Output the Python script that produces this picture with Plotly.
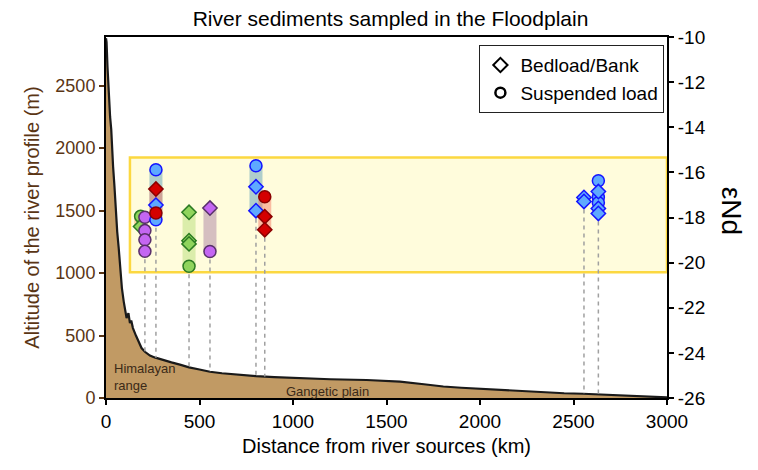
import numpy as np
import plotly.graph_objects as go

# ---------------- data ----------------
# River profile (distance km, altitude m)
profile_km = [0, 3, 8, 12, 18, 22, 28, 32, 38, 45, 52, 60, 68, 75, 85, 95, 110, 120, 128,
              135, 144, 160, 175, 190, 208, 235, 260, 300, 350, 400, 444, 500, 556, 620,
              700, 802, 900, 1037, 1200, 1394, 1572, 1700, 1804, 1900, 2017, 2100, 2177,
              2250, 2321, 2450, 2551, 2642, 2730, 2818, 2900, 2979, 3000]
profile_alt = [2880, 2850, 2650, 2500, 2350, 2250, 2150, 2000, 1850, 1700, 1500, 1330, 1200,
               1060, 880, 770, 640, 680, 600, 620, 560, 500, 450, 400, 370, 340, 325, 305,
               285, 265, 245, 228, 210, 198, 186, 175, 167, 157, 150, 144, 131, 110, 92, 82,
               72, 63, 56, 50, 45, 38, 34, 29, 24, 19, 13, 7, 5]

# eNd samples: (distance km) and values for suspended load / bedload-bank
greenA_km, greenA_susp, greenA_bed = 185, [-17.95], [-18.4]
purpleA_km, purpleA_susp, purpleA_bed = 208, [-17.99, -18.58, -18.99, -19.50], []
blue1_km, blue1_susp, blue1_bed = 267, [-15.88, -18.1], [-17.45]
red1_km, red1_susp, red1_bed = 267, [-17.8], [-16.74]
green2_km, green2_susp, green2_bed = 444, [-20.16], [-17.77, -19.03, -19.17]
purple2_km, purple2_susp, purple2_bed = 556, [-19.51], [-17.58]
blue2_km, blue2_susp, blue2_bed = 802, [-15.71], [-16.64, -17.7]
red2_km, red2_susp, red2_bed = 849, [-17.08], [-17.96, -18.54]
blue3_km, blue3_susp, blue3_bed = 2556, [], [-17.11, -17.29]
blue4_km, blue4_susp, blue4_bed = 2633, [-16.37, -17.1, -17.35], [-16.85, -17.6, -17.82]

# Himalayan source range box (eNd)
box_km = [128, 3000]
box_end = [-20.43, -15.34]

alt_range = [0, 2890]
end_range = [-26, -10]

x_ticks = [0, 500, 1000, 1500, 2000, 2500, 3000]
alt_ticks = [0, 500, 1000, 1500, 2000, 2500]
end_ticks = [-26, -24, -22, -20, -18, -16, -14, -12, -10]
end_ticktext = ["-26", "-24", "-22", "-20", "-18", "-16", "-14", "-12", "-10"]

# ---------------- styles ----------------
FONT = "Liberation Sans, Arial, sans-serif"
BROWN = "#5a3514"
styles = {
    "blue": dict(fill="#5ea9ff", line="#1414ff", bar="rgba(95,160,185,0.5)"),
    "red": dict(fill="#d40000", line="#8a0000", bar="rgba(245,110,90,0.45)"),
    "green": dict(fill="#8fd45c", line="#2b7a22", bar="rgba(175,220,110,0.45)"),
    "greenA": dict(fill="#8fd45c", line="#2b7a22", bar="rgba(250,175,110,0.5)"),
    "purple": dict(fill="#c466f2", line="#58306a", bar="rgba(150,100,150,0.4)"),
}

groups = [
    ("greenA", greenA_km, greenA_susp, greenA_bed, True, False),
    ("purple", purpleA_km, purpleA_susp, purpleA_bed, False, True),
    ("blue", blue1_km, blue1_susp, blue1_bed, True, True),
    ("red", red1_km, red1_susp, red1_bed, True, False),
    ("green", green2_km, green2_susp, green2_bed, True, True),
    ("purple", purple2_km, purple2_susp, purple2_bed, True, True),
    ("blue", blue2_km, blue2_susp, blue2_bed, True, True),
    ("red", red2_km, red2_susp, red2_bed, True, True),
    ("blue", blue3_km, blue3_susp, blue3_bed, False, True),
    ("blue", blue4_km, blue4_susp, blue4_bed, False, True),
]


def alt_to_end(a):
    return end_range[0] + (a - alt_range[0]) / (alt_range[1] - alt_range[0]) * (end_range[1] - end_range[0])


fig = go.Figure()

# river profile
fig.add_trace(go.Scatter(x=profile_km, y=profile_alt, mode="lines", fill="tozeroy",
                         fillcolor="#c19a64", line=dict(color="#1a1a1a", width=2.2),
                         showlegend=False, hoverinfo="skip", yaxis="y"))

# shaded bars
for name, km, susp, bed, bar, dash in groups:
    vals = susp + bed
    if bar and len(vals) > 1:
        fig.add_trace(go.Scatter(x=[km, km], y=[max(vals), min(vals)], mode="lines",
                                 line=dict(color=styles[name]["bar"], width=13),
                                 showlegend=False, hoverinfo="skip", yaxis="y2"))

# dashed links to the profile
for name, km, susp, bed, bar, dash in groups:
    vals = susp + bed
    if dash:
        a = float(np.interp(km, profile_km, profile_alt))
        fig.add_trace(go.Scatter(x=[km, km], y=[min(vals), alt_to_end(a)], mode="lines",
                                 line=dict(color="#a0a0a0", width=1.5, dash="4px,4px"),
                                 showlegend=False, hoverinfo="skip", yaxis="y2"))

# markers
for name, km, susp, bed, bar, dash in groups:
    st = styles[name]
    if susp:
        fig.add_trace(go.Scatter(x=[km] * len(susp), y=susp, mode="markers",
                                 marker=dict(symbol="circle", size=12, color=st["fill"],
                                             line=dict(color=st["line"], width=1.5)),
                                 showlegend=False, yaxis="y2"))
    if bed:
        fig.add_trace(go.Scatter(x=[km] * len(bed), y=bed, mode="markers",
                                 marker=dict(symbol="diamond", size=11, color=st["fill"],
                                             line=dict(color=st["line"], width=1.5)),
                                 showlegend=False, yaxis="y2"))

# legend entries
fig.add_trace(go.Scatter(x=[None], y=[None], mode="markers", name="Bedload/Bank",
                         marker=dict(symbol="diamond", size=11, color="white",
                                     line=dict(color="black", width=2)), yaxis="y2"))
fig.add_trace(go.Scatter(x=[None], y=[None], mode="markers", name="Suspended load",
                         marker=dict(symbol="circle", size=10, color="white",
                                     line=dict(color="black", width=2.5)), yaxis="y2"))

fig.add_shape(type="rect", xref="x", yref="y2", x0=box_km[0], x1=box_km[1],
              y0=box_end[0], y1=box_end[1], fillcolor="#fffcdc",
              line=dict(color="#fcd840", width=2.5), layer="below")

fig.add_annotation(x=30, y=165, xref="x", yref="y", text="Himalayan<br>range",
                   showarrow=False, xanchor="left", yanchor="middle", align="left",
                   font=dict(family=FONT, size=13, color="#3b2a18"))
fig.add_annotation(x=1182, y=55, xref="x", yref="y", text="Gangetic plain",
                   showarrow=False, xanchor="center", yanchor="middle",
                   font=dict(family=FONT, size=13, color="#3b2a18"))
fig.add_annotation(x=1.115, y=0.52, xref="paper", yref="paper", text="εNd",
                   showarrow=False, textangle=90, xanchor="center", yanchor="middle",
                   font=dict(family=FONT, size=28, color="black"))

fig.update_layout(
    width=750, height=462,
    margin=dict(l=98, r=91, t=29, b=72),
    paper_bgcolor="white", plot_bgcolor="white",
    font=dict(family=FONT, size=19, color="black"),
    title=dict(text="River sediments sampled in the Floodplain", x=0.51, xanchor="center",
               y=0.978, yanchor="middle", font=dict(family=FONT, size=21, color="black")),
    xaxis=dict(range=[0, 3000], tickvals=x_ticks, showgrid=False, zeroline=False,
               showline=True, linecolor="black", linewidth=2, mirror=True,
               ticks="outside", ticklen=5, tickcolor="black", tickwidth=2,
               tickfont=dict(size=19, color="black"),
               title=dict(text="Distance from river sources (km)", font=dict(size=20), standoff=8)),
    yaxis=dict(range=alt_range, tickvals=alt_ticks, showgrid=False, zeroline=False,
               showline=True, linecolor="black", linewidth=2,
               ticks="outside", ticklen=5, tickcolor=BROWN, tickwidth=2,
               tickfont=dict(size=18, color=BROWN),
               title=dict(text="Altitude of the river profile (m)", font=dict(size=20, color=BROWN),
                          standoff=10)),
    yaxis2=dict(range=end_range, tickvals=end_ticks, ticktext=end_ticktext, overlaying="y",
                side="right", showgrid=False, zeroline=False, showline=True,
                linecolor="black", linewidth=2,
                ticks="outside", ticklen=5, tickcolor="black", tickwidth=1.5,
                tickfont=dict(size=19, color="black")),
    legend=dict(x=0.995, y=0.978, xanchor="right", yanchor="top", bgcolor="white",
                bordercolor="#222", borderwidth=1.2, font=dict(size=19),
                itemsizing="trace", tracegroupgap=2),
    showlegend=True,
)

fig.write_html("out.html")
